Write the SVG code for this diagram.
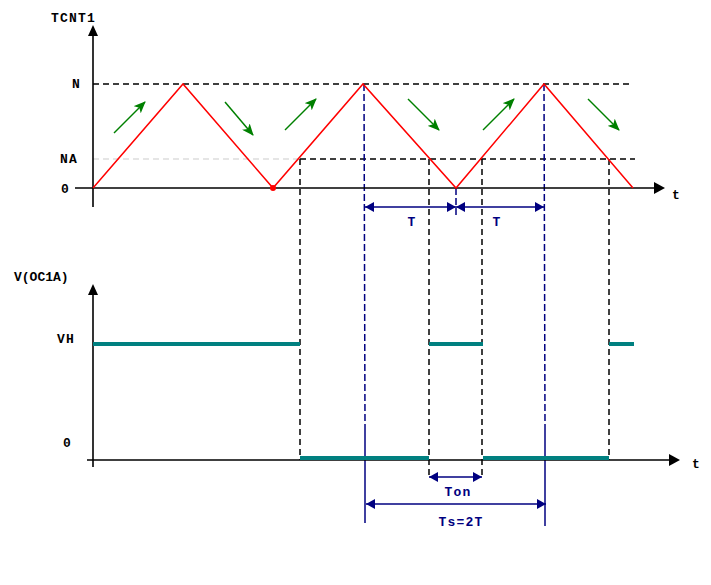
<svg xmlns="http://www.w3.org/2000/svg" width="711" height="585" viewBox="0 0 711 585">
<style>
.lbl{font-family:"Liberation Mono","Courier New",monospace;font-weight:bold;font-size:13px;letter-spacing:1.2px;fill:#000}
.blbl{font-family:"Liberation Mono","Courier New",monospace;font-weight:bold;font-size:13px;letter-spacing:1.2px;fill:#000080}
.axis{stroke:#000;stroke-width:1.6;fill:none}
.dash{stroke:#000;stroke-width:1.5;stroke-dasharray:6,4;fill:none}
.gdash{stroke:#ddd;stroke-width:1.5;stroke-dasharray:6,4;fill:none}
.bdash{stroke:#000080;stroke-width:1.5;stroke-dasharray:7,3;fill:none}
.bsolid{stroke:#000080;stroke-width:1.5;fill:none}
.wave{stroke:#ff0000;stroke-width:1.5;fill:none}
.teal{stroke:#008080;stroke-width:4;fill:none}
.garrow{stroke:#008000;stroke-width:1.5;fill:none;marker-end:url(#gh)}
.dim{stroke:#000080;stroke-width:1.5;fill:none;marker-start:url(#bhs);marker-end:url(#bh)}
</style>
<defs>
<marker id="gh" viewBox="0 0 12 10" refX="11" refY="5" markerWidth="12" markerHeight="10" markerUnits="userSpaceOnUse" orient="auto"><path d="M0,0 L12,5 L0,10 L3,5 Z" fill="#008000"/></marker>
<marker id="bh" viewBox="0 0 9 10" refX="9" refY="5" markerWidth="9" markerHeight="10" markerUnits="userSpaceOnUse" orient="auto"><path d="M0,0 L9,5 L0,10 Z" fill="#000080"/></marker>
<marker id="bhs" viewBox="0 0 9 10" refX="0" refY="5" markerWidth="9" markerHeight="10" markerUnits="userSpaceOnUse" orient="auto"><path d="M9,0 L0,5 L9,10 Z" fill="#000080"/></marker>
</defs>
<rect width="711" height="585" fill="#fff"/>

<g id="guides">
<line class="dash" x1="93" y1="84" x2="630" y2="84"/>
<line class="gdash" x1="93" y1="159" x2="300" y2="159"/>
<line class="dash" x1="300" y1="159" x2="635" y2="159"/>
<line class="dash" x1="300" y1="159" x2="300" y2="460"/>
<line class="dash" x1="429" y1="159" x2="429" y2="478"/>
<line class="dash" x1="482" y1="159" x2="482" y2="478"/>
<line class="dash" x1="609" y1="159" x2="609" y2="460"/>
<line class="bdash" x1="364" y1="84" x2="365" y2="425"/>
<line class="bsolid" x1="365" y1="425" x2="365" y2="523"/>
<line class="bdash" x1="544" y1="84" x2="545" y2="425"/>
<line class="bsolid" x1="545" y1="425" x2="545" y2="526"/>
<line class="bdash" x1="456" y1="188" x2="456" y2="216"/>
</g>

<g id="top-axes">
<line class="axis" x1="93" y1="207" x2="93" y2="35"/>
<path d="M93,25 L98,36 L88,36 Z" fill="#000"/>
<line class="axis" x1="75" y1="188" x2="655" y2="188"/>
<path d="M665,188 L654,182 L654,194 Z" fill="#000"/>
<text class="lbl" x="51" y="22">TCNT1</text>
<text class="lbl" x="72" y="88">N</text>
<text class="lbl" x="60" y="163">NA</text>
<text class="lbl" x="61" y="193">0</text>
<text class="lbl" x="672" y="199">t</text>
</g>

<g id="tcnt1-wave">
<polyline class="wave" points="93,188 183,84 273,188 363,84 456,188 544,84 633,188"/>
<circle cx="273" cy="188" r="3" fill="#ff0000"/>
</g>

<g id="direction-arrows">
<line class="garrow" x1="114" y1="133" x2="145" y2="102"/>
<line class="garrow" x1="225" y1="102" x2="253" y2="135"/>
<line class="garrow" x1="285" y1="130" x2="316" y2="99"/>
<line class="garrow" x1="408" y1="99" x2="439" y2="130"/>
<line class="garrow" x1="483" y1="130" x2="514" y2="99"/>
<line class="garrow" x1="588" y1="99" x2="619" y2="130"/>
</g>

<g id="bottom-axes">
<line class="axis" x1="93" y1="467" x2="93" y2="293"/>
<path d="M93,284 L98,295 L88,295 Z" fill="#000"/>
<line class="axis" x1="87" y1="460" x2="670" y2="460"/>
<path d="M680,460 L669,454 L669,466 Z" fill="#000"/>
<text class="lbl" x="14" y="281" style="letter-spacing:0">V(OC1A)</text>
<text class="lbl" x="57" y="343">VH</text>
<text class="lbl" x="63" y="447">0</text>
<text class="lbl" x="692" y="468">t</text>
</g>

<g id="oc1a-signal">
<line class="teal" x1="93" y1="344" x2="300" y2="344"/>
<line class="teal" x1="300" y1="458" x2="429" y2="458"/>
<line class="teal" x1="429" y1="344" x2="483" y2="344"/>
<line class="teal" x1="483" y1="458" x2="609" y2="458"/>
<line class="teal" x1="609" y1="344" x2="634" y2="344"/>
</g>

<g id="connectors">
<line class="dim" x1="365" y1="207" x2="456" y2="207"/>
<line class="dim" x1="456" y1="207" x2="544" y2="207"/>
<line class="dim" x1="429" y1="477" x2="482" y2="477"/>
<line class="dim" x1="366" y1="504" x2="546" y2="504"/>
</g>

<g id="dim-labels">
<text class="blbl" x="412" y="226" text-anchor="middle">T</text>
<text class="blbl" x="497" y="226" text-anchor="middle">T</text>
<text class="blbl" x="458" y="496" text-anchor="middle">Ton</text>
<text class="blbl" x="461" y="526" text-anchor="middle">Ts=2T</text>
</g>
</svg>
